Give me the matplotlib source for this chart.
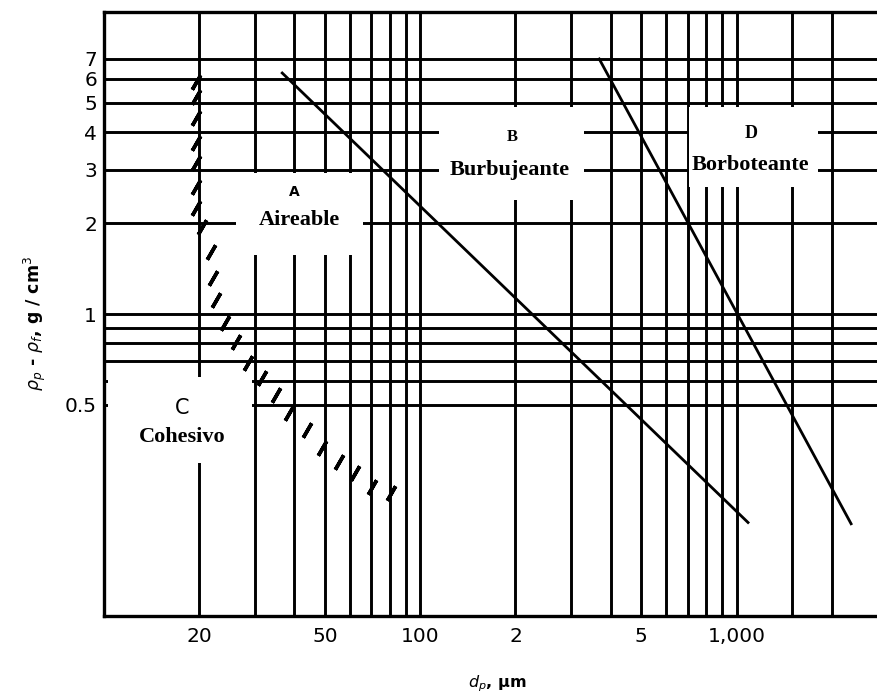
import matplotlib.pyplot as plt
from matplotlib.ticker import NullLocator

# basic settings
plt.rcParams["font.family"] = "DejaVu Sans"
serif = "Liberation Serif"

# grid lines of the chart (particle size in um, density difference in g/cm3)
grid_d = [20, 30, 40, 50, 60, 70, 80, 90, 100,
          200, 300, 400, 500, 600, 700, 800, 900, 1000, 1500, 2000]
grid_rho = [0.5, 0.6, 0.7, 0.8, 0.9, 1, 2, 3, 4, 5, 6, 7]

x_ticks = [20, 50, 100, 200, 500, 1000]
x_tick_labels = ["20", "50", "100", "2", "5", "1,000"]
y_ticks = [0.5, 1, 2, 3, 4, 5, 6, 7]
y_tick_labels = ["0.5", "1", "2", "3", "4", "5", "6", "7"]

# A/B and B/D boundaries
ab_d = [36.6, 1087]
ab_rho = [6.28, 0.204]
bd_d = [368, 2302]
bd_rho = [6.99, 0.202]

# hatched C/A boundary
hatch_d = [19.5, 19.5, 19.5, 19.5, 19.5, 19.5, 19.5,
           20.4, 21.8, 22.1, 22.6, 24.2, 26.2, 28.6, 31.6,
           35.0, 38.5, 43.9, 49.0, 55.4, 62.3, 70.5, 80.9]
hatch_rho = [5.86, 5.23, 4.46, 3.68, 3.16, 2.63, 2.24,
             1.94, 1.60, 1.32, 1.11, 0.934, 0.808, 0.69, 0.614,
             0.539, 0.47, 0.413, 0.36, 0.324, 0.298, 0.267, 0.255]

fig = plt.figure(figsize=(8.78, 6.98), dpi=100)
ax = fig.add_axes([104 / 878, 1 - 616 / 698, 774 / 878, 604 / 698])
ax.set_xscale("log")
ax.set_yscale("log")
ax.set_xlim(10, 2800)
ax.set_ylim(0.1, 10)

# grid
for d in grid_d:
    ax.axvline(d, color="black", linewidth=2.1, zorder=1)
for r in grid_rho:
    ax.axhline(r, color="black", linewidth=2.1, zorder=1)

# white boxes behind the region labels
label_boxes = [
    (26.2, 66, 1.57, 2.92),
    (115, 330, 2.39, 4.85),
    (708, 1805, 2.63, 4.85),
    (10.3, 29.3, 0.32, 0.62),
]
for x0, x1, y0, y1 in label_boxes:
    ax.fill([x0, x1, x1, x0], [y0, y0, y1, y1], color="white", zorder=2, lw=0)

# boundaries
ax.plot(ab_d, ab_rho, color="black", linewidth=2.0, zorder=3)
ax.plot(bd_d, bd_rho, color="black", linewidth=2.0, zorder=3)
ax.plot(hatch_d, hatch_rho, linestyle="none", marker=(2, 2, -30),
        markersize=12, markeredgewidth=2.6, color="black", zorder=3)

# region labels
ax.text(40, 2.54, "A", fontsize=10, fontweight="bold", ha="center", va="center", zorder=5)
ax.text(41.4, 2.04, "Aireable", fontsize=16, fontweight="bold", family=serif,
        ha="center", va="center", zorder=5)
ax.text(196, 3.86, "B", fontsize=12, fontweight="bold", family=serif,
        ha="center", va="center", zorder=5)
ax.text(192, 3.0, "Burbujeante", fontsize=16, fontweight="bold", family=serif,
        ha="center", va="center", zorder=5,
        bbox=dict(facecolor="white", edgecolor="none", pad=0.5))
ax.text(1112, 3.97, "D", fontsize=13, fontweight="bold", family=serif,
        ha="center", va="center", zorder=5)
ax.text(1110, 3.11, "Borboteante", fontsize=16, fontweight="bold", family=serif,
        ha="center", va="center", zorder=5,
        bbox=dict(facecolor="white", edgecolor="none", pad=0.5))
ax.text(17.7, 0.49, "C", fontsize=15, ha="center", va="center", zorder=5)
ax.text(17.7, 0.39, "Cohesivo", fontsize=16, fontweight="bold", family=serif,
        ha="center", va="center", zorder=5)

# ticks
ax.set_xticks(x_ticks, x_tick_labels)
ax.set_yticks(y_ticks, y_tick_labels)
ax.xaxis.set_minor_locator(NullLocator())
ax.yaxis.set_minor_locator(NullLocator())
ax.tick_params(axis="both", length=0, labelsize=14.5)
ax.tick_params(axis="x", pad=8)
ax.tick_params(axis="y", pad=5)

# frame
for side in ["left", "bottom", "top"]:
    ax.spines[side].set_linewidth(2.4)
    ax.spines[side].set_zorder(6)
ax.spines["right"].set_visible(False)

# axis titles
fig.text(497 / 878, 1 - 684 / 698, r"$d_p$, µm", fontsize=11.5, fontweight="bold",
         ha="center", va="center")
fig.text(35 / 878, 1 - 323 / 698, r"$\rho_p$ - $\rho_f$, g / cm$^3$", fontsize=12.5,
         fontweight="bold", rotation=90, ha="center", va="center")

plt.savefig("out.png", dpi=100)
plt.close(fig)
